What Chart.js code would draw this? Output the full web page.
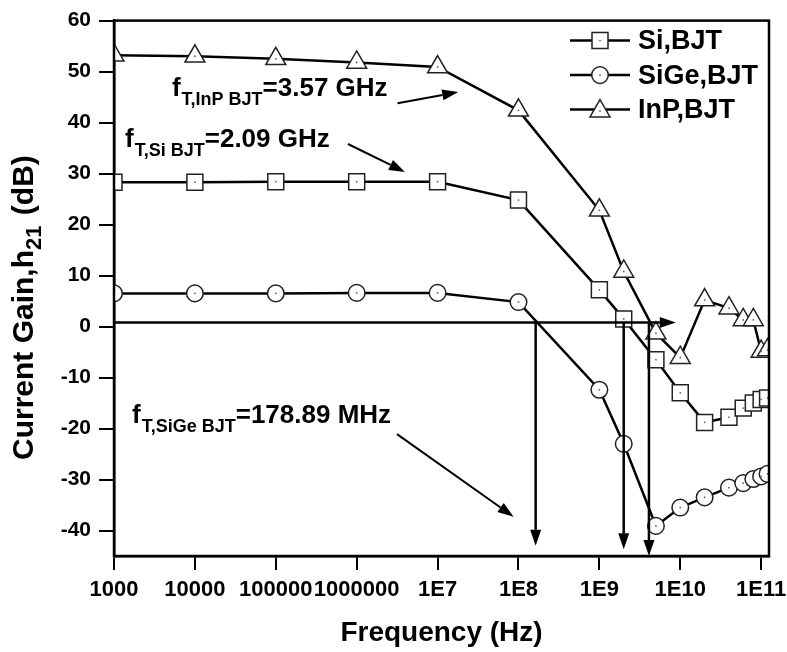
<!DOCTYPE html>
<html>
<head>
<meta charset="utf-8">
<script src="https://cdn.jsdelivr.net/npm/chart.js@4.4.1/dist/chart.umd.min.js"></script>
<style>
  html, body { margin: 0; padding: 0; background: #fff; }
  #wrap { width: 787px; height: 652px; }
</style>
</head>
<body>
<div id="wrap"><canvas id="gain-chart" width="787" height="652"></canvas></div>
<script>
// frequency sweep (Hz)
var freq = [1e3, 1e4, 1e5, 1e6, 1e7, 1e8, 1e9, 2e9, 5e9, 1e10, 2e10, 4e10, 6e10, 8e10, 1e11, 1.2e11];

// current gain h21 (dB)
var siGain   = [28.3, 28.3, 28.4, 28.4, 28.4, 24.8, 7.2, 1.5, -6.5, -13.0, -18.8, -17.8, -16.0, -15.0, -14.3, -14.0];
var sigeGain = [6.5, 6.5, 6.5, 6.6, 6.6, 4.8, -12.4, -23.0, -39.1, -35.5, -33.5, -31.6, -30.7, -29.9, -29.4, -28.9];
var inpGain  = [53.2, 53.0, 52.5, 51.8, 50.9, 42.4, 22.8, 10.8, -1.3, -6.1, 5.2, 3.6, 1.3, 1.3, -4.9, -4.6];

var seriesNames = ['Si,BJT', 'SiGe,BJT', 'InP,BJT'];

var xTickValues = [1e3, 1e4, 1e5, 1e6, 1e7, 1e8, 1e9, 1e10, 1e11];
var xTickLabels = ['1000', '10000', '100000', '1000000', '1E7', '1E8', '1E9', '1E10', '1E11'];
var yTickValues = [-40, -30, -20, -10, 0, 10, 20, 30, 40, 50, 60];

// unity gain reference line and the f_T drop lines
var refLevel = 0.8;
var refLineEnd = 8.8e9;
var fTFreqs = [1.63e8, 2.0e9, 4.1e9];
var fTDropEnds = [-43, -43.7, -45];

// callouts: text, subscript, rest, anchor freq, anchor dB, arrow [f0, dB0, f1, dB1]
var calloutText = ['f', 'f', 'f'];
var calloutSub = ['T,InP BJT', 'T,Si BJT', 'T,SiGe BJT'];
var calloutRest = ['=3.57 GHz', '=2.09 GHz', '=178.89 MHz'];
var calloutFreq = [5.2e3, 1.37e3, 1.67e3];
var calloutDb = [45.2, 35.2, -18.9];
var calloutArrows = [
  [3.2e6, 43.8, 1.8e7, 46.0],
  [7.8e5, 35.8, 3.95e6, 30.3],
  [3.15e6, -21.1, 8.7e7, -37.3]
];

var FONT = '"Liberation Sans", Arial, Helvetica, sans-serif';
Chart.defaults.font.family = FONT;
Chart.defaults.font.weight = 'bold';
Chart.defaults.color = '#000';

function toPoints(ys) {
  return freq.map(function (f, i) { return { x: f, y: ys[i] }; });
}

function arrow(ctx, x0, y0, x1, y1) {
  var ang = Math.atan2(y1 - y0, x1 - x0);
  var len = 16, half = 5.5;
  var bx = x1 - len * Math.cos(ang), by = y1 - len * Math.sin(ang);
  ctx.beginPath();
  ctx.moveTo(x0, y0);
  ctx.lineTo(bx, by);
  ctx.stroke();
  ctx.beginPath();
  ctx.moveTo(x1, y1);
  ctx.lineTo(bx + half * Math.sin(ang), by - half * Math.cos(ang));
  ctx.lineTo(bx - half * Math.sin(ang), by + half * Math.cos(ang));
  ctx.closePath();
  ctx.fill();
}

function drawMarker(ctx, style, x, y) {
  ctx.save();
  ctx.fillStyle = '#fff';
  ctx.strokeStyle = '#222';
  ctx.lineWidth = 1.5;
  ctx.beginPath();
  if (style === 'rect') {
    ctx.rect(x - 8, y - 8, 16, 16);
  } else if (style === 'circle') {
    ctx.arc(x, y, 8.3, 0, Math.PI * 2);
  } else {
    ctx.moveTo(x, y - 11.5);
    ctx.lineTo(x + 10, y + 5.8);
    ctx.lineTo(x - 10, y + 5.8);
    ctx.closePath();
  }
  ctx.fill();
  ctx.stroke();
  ctx.fillStyle = '#555';
  ctx.fillRect(x - 0.75, y - 0.75, 1.5, 1.5);
  ctx.restore();
}

var decorPlugin = {
  id: 'decor',
  afterDatasetsDraw: function (chart) {
    var ctx = chart.ctx, area = chart.chartArea;
    var xs = chart.scales.x, ys = chart.scales.y;

    // tiny centre dot in each marker
    ctx.save();
    ctx.fillStyle = '#555';
    chart.data.datasets.forEach(function (ds, i) {
      chart.getDatasetMeta(i).data.forEach(function (p) {
        if (p.x >= area.left && p.x <= area.right) ctx.fillRect(p.x - 0.75, p.y - 0.75, 1.5, 1.5);
      });
    });
    ctx.restore();

    ctx.save();
    ctx.strokeStyle = '#000';
    ctx.fillStyle = '#000';
    ctx.lineWidth = 2.5;

    // plot frame
    ctx.strokeRect(area.left, area.top, area.right - area.left, area.bottom - area.top);

    // reference line with arrow
    var yRef = ys.getPixelForValue(refLevel);
    arrow(ctx, area.left, yRef, xs.getPixelForValue(refLineEnd), yRef);

    // f_T drop arrows
    fTFreqs.forEach(function (f, i) {
      var px = xs.getPixelForValue(f);
      arrow(ctx, px, yRef, px, ys.getPixelForValue(fTDropEnds[i]));
    });

    // callouts
    ctx.lineWidth = 2;
    calloutArrows.forEach(function (a) {
      arrow(ctx, xs.getPixelForValue(a[0]), ys.getPixelForValue(a[1]),
                 xs.getPixelForValue(a[2]), ys.getPixelForValue(a[3]));
    });
    ctx.textBaseline = 'alphabetic';
    ctx.textAlign = 'left';
    calloutText.forEach(function (t, i) {
      var px = xs.getPixelForValue(calloutFreq[i]);
      var py = ys.getPixelForValue(calloutDb[i]);
      ctx.font = 'bold 26px ' + FONT;
      ctx.fillText(t, px, py);
      px += ctx.measureText(t).width + 1;
      ctx.font = 'bold 18px ' + FONT;
      ctx.fillText(calloutSub[i], px, py + 9);
      px += ctx.measureText(calloutSub[i]).width;
      ctx.font = 'bold 26px ' + FONT;
      ctx.fillText(calloutRest[i], px, py);
    });

    // legend in the top right corner
    var styles = ['rect', 'circle', 'triangle'];
    ctx.font = 'bold 27px ' + FONT;
    ctx.textBaseline = 'middle';
    seriesNames.forEach(function (name, i) {
      var ry = area.top + 20 + i * 34.5;
      ctx.lineWidth = 2.5;
      ctx.beginPath();
      ctx.moveTo(570, ry);
      ctx.lineTo(630, ry);
      ctx.stroke();
      drawMarker(ctx, styles[i], 600, ry + (i === 2 ? 1.5 : 0));
      ctx.fillStyle = '#000';
      ctx.fillText(name, 638, ry + 1);
    });

    // y axis title with subscript
    ctx.translate(33, 460);
    ctx.rotate(-Math.PI / 2);
    ctx.textBaseline = 'alphabetic';
    ctx.font = 'bold 30px ' + FONT;
    var t1 = 'Current Gain,h';
    ctx.fillText(t1, 0, 0);
    var off = ctx.measureText(t1).width;
    ctx.font = 'bold 22px ' + FONT;
    ctx.fillText('21', off, 8);
    off += ctx.measureText('21').width + 2;
    ctx.font = 'bold 30px ' + FONT;
    ctx.fillText(' (dB)', off, 0);
    ctx.restore();
  }
};

var ctx = document.getElementById('gain-chart').getContext('2d');
var chart = new Chart(ctx, {
  type: 'line',
  data: {
    datasets: [
      { label: seriesNames[0], data: toPoints(siGain), pointStyle: 'rect', pointRadius: 11.3 },
      { label: seriesNames[1], data: toPoints(sigeGain), pointStyle: 'circle', pointRadius: 8.3 },
      { label: seriesNames[2], data: toPoints(inpGain), pointStyle: 'triangle', pointRadius: 11.5 }
    ].map(function (ds) {
      ds.borderColor = '#000';
      ds.borderWidth = 2.5;
      ds.pointBackgroundColor = '#fff';
      ds.pointBorderColor = '#222';
      ds.pointBorderWidth = 1.5;
      ds.tension = 0;
      return ds;
    })
  },
  options: {
    responsive: false,
    animation: false,
    layout: { padding: { left: 0, top: 18, right: 18, bottom: 0 } },
    plugins: { legend: { display: false }, tooltip: { enabled: false } },
    scales: {
      x: {
        type: 'logarithmic',
        min: 1e3,
        max: 1.25e11,
        afterBuildTicks: function (s) { s.ticks = xTickValues.map(function (v) { return { value: v }; }); },
        afterFit: function (s) { s.height = 96; s.paddingLeft = 0; s.paddingRight = 0; },
        ticks: {
          autoSkip: false,
          maxRotation: 0,
          padding: 7,
          font: { size: 22, weight: 'bold' },
          color: '#000',
          callback: function (v, i) { return xTickLabels[i]; }
        },
        grid: { drawOnChartArea: false, drawTicks: true, tickLength: 14, lineWidth: 2, color: '#000' },
        border: { display: true, width: 2.5, color: '#000' },
        title: { display: true, text: 'Frequency (Hz)', font: { size: 28, weight: 'bold' }, color: '#000', padding: { top: 0, bottom: 2 } }
      },
      y: {
        min: -45,
        max: 60,
        afterBuildTicks: function (s) { s.ticks = yTickValues.map(function (v) { return { value: v }; }); },
        afterFit: function (s) { s.width = 114; },
        ticks: {
          padding: 8,
          font: { size: 21, weight: 'bold' },
          color: '#000',
          callback: function (v) { return String(v); }
        },
        grid: { drawOnChartArea: false, drawTicks: true, tickLength: 15, lineWidth: 2, color: '#000' },
        border: { display: true, width: 2.5, color: '#000' }
      }
    }
  },
  plugins: [decorPlugin]
});
</script>
</body>
</html>
